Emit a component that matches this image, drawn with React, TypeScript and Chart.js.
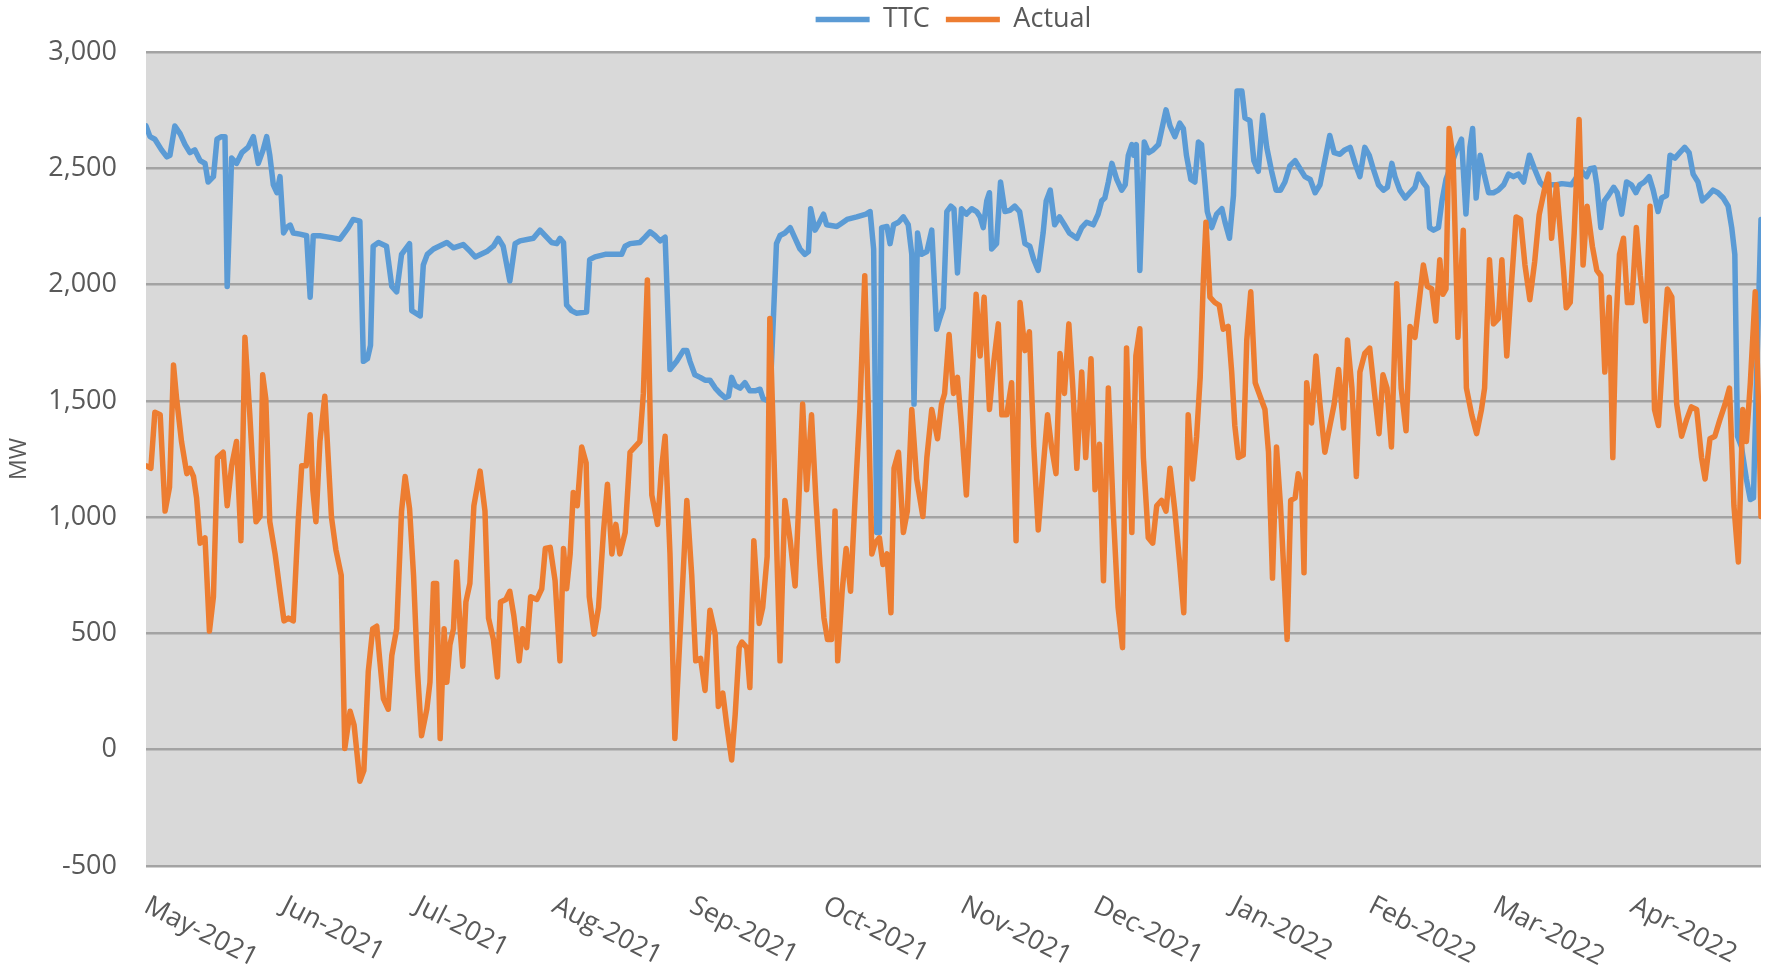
import React, { useEffect, useRef } from 'react';
import { Chart, registerables } from 'chart.js';

Chart.register(...registerables);

// Month tick labels and their day offsets from 1 May 2021
const monthLabels = ['May-2021', 'Jun-2021', 'Jul-2021', 'Aug-2021', 'Sep-2021', 'Oct-2021', 'Nov-2021', 'Dec-2021', 'Jan-2022', 'Feb-2022', 'Mar-2022', 'Apr-2022'];
const monthStartDay = [0, 31, 61, 92, 123, 153, 184, 214, 245, 276, 304, 335];

// TTC series (day offset, MW)
const ttcDay = [0, 0.9, 2, 3.5, 4.7, 5.4, 6.5, 7.7, 8.8, 9.9, 11, 12.2, 13.3, 14, 15.2, 16, 17, 17.8, 18.3, 19.3, 20.4, 21.6, 23, 24.2, 25.3, 26.4, 27.2, 27.9, 28.7, 29.5, 30.2, 31, 31.7, 32.5, 33.2, 34.7, 36.2, 37, 37.7, 39.2, 41.5, 43.7, 45.6, 46.7, 48.2, 49, 49.9, 50.6, 51.2, 52.4, 54.2, 55.4, 56.5, 57.6, 59.4, 59.9, 61.8, 62.5, 63.4, 64.8, 67.8, 69.3, 71.5, 73.1, 74.2, 76.8, 78.3, 79.4, 80.5, 82, 83.2, 84.3, 87.3, 88.8, 91.4, 92.6, 93.3, 94.1, 94.8, 95.9, 97, 99.3, 100, 101.2, 103.5, 107.2, 108, 109.1, 111.3, 112.5, 113.6, 114.7, 115.9, 117, 118.1, 119.6, 121.1, 121.9, 122.6, 123.7, 124.9, 126, 127.1, 128.3, 129.4, 130.5, 131.3, 132, 132.8, 133.9, 135, 136.1, 137.3, 138.4, 139.1, 140.6, 141.4, 142.1, 142.9, 144, 145.2, 146.3, 147.4, 148.5, 149.3, 149.8, 150.8, 151.5, 152.7, 153.4, 155.7, 156.8, 158, 160.2, 162.3, 163.2, 164, 164.7, 165.3, 165.8, 167, 167.7, 168.5, 169.6, 170.7, 171.8, 172.6, 173.1, 173.9, 174.8, 176, 177.1, 178.2, 178.9, 179.7, 180.5, 181.4, 182.1, 182.9, 183.8, 184.9, 186.1, 187.2, 188, 188.7, 189.5, 190.1, 190.6, 191.7, 192.6, 193.6, 194.7, 195.8, 196.9, 198.1, 199.2, 200.1, 201.1, 202.2, 202.9, 203.8, 204.8, 205.9, 207, 208.1, 209.8, 210.9, 212, 213.5, 214.6, 215.4, 216.1, 216.9, 217.7, 218.8, 219.9, 220.7, 221.4, 222.2, 222.6, 223.2, 224, 225, 226, 227, 228.2, 229.9, 230.8, 231.9, 233, 233.8, 234.5, 235.5, 236.4, 237.2, 237.9, 238.7, 239.2, 240.2, 241.3, 242.5, 243.2, 244.2, 245.1, 245.9, 247, 247.7, 248.8, 249.7, 250.7, 251.7, 252.6, 253.7, 254.7, 255.7, 256.7, 257.8, 259, 260.1, 261.2, 262.4, 263.5, 264.6, 265.8, 266.8, 267.8, 269.1, 270.2, 271.4, 272.5, 273.6, 274.7, 275.7, 276.6, 277.8, 278.9, 279.8, 280.8, 281.5, 282.6, 283.8, 284.9, 286, 286.8, 287.8, 288.7, 289.3, 290.2, 291.3, 292.1, 293, 294.3, 295.4, 296.5, 297.5, 298.4, 299, 299.8, 300.7, 301.6, 302.6, 303.7, 304.8, 306, 307.1, 308.2, 309.3, 310.5, 311.8, 312.9, 314.2, 315.3, 316.5, 318, 319.1, 321.3, 322.5, 323.6, 324.7, 325.5, 326.4, 327, 327.9, 328.7, 329.6, 330.8, 331.6, 332.6, 333.7, 334.8, 335.8, 336.7, 337.7, 338.8, 339.7, 340.8, 341.6, 342.7, 343.5, 344.6, 345.7, 346.8, 347.8, 348.7, 349.8, 350.8, 352.1, 353.2, 354.3, 355.5, 356.6, 357.4, 358.1, 358.7, 359.6, 360.7, 361.6, 362.3, 363.1, 364];
const ttcMW = [2682, 2636, 2625, 2579, 2549, 2556, 2682, 2648, 2602, 2567, 2579, 2533, 2521, 2441, 2464, 2625, 2636, 2636, 1992, 2544, 2521, 2567, 2590, 2636, 2521, 2579, 2636, 2556, 2429, 2395, 2464, 2222, 2245, 2256, 2222, 2217, 2210, 1946, 2210, 2210, 2203, 2195, 2245, 2280, 2273, 1670, 1681, 1739, 2165, 2181, 2165, 1992, 1969, 2130, 2176, 1888, 1865, 2084, 2130, 2153, 2181, 2158, 2172, 2142, 2119, 2142, 2165, 2199, 2165, 2015, 2176, 2188, 2199, 2234, 2181, 2176, 2199, 2181, 1912, 1888, 1877, 1882, 2107, 2119, 2130, 2130, 2165, 2176, 2181, 2204, 2227, 2211, 2188, 2204, 1635, 1670, 1716, 1716, 1670, 1612, 1601, 1589, 1589, 1555, 1532, 1514, 1520, 1601, 1566, 1555, 1578, 1543, 1543, 1550, 1509, 1497, 1854, 2176, 2211, 2222, 2245, 2199, 2153, 2130, 2142, 2326, 2234, 2257, 2303, 2257, 2250, 2264, 2280, 2291, 2303, 2314, 2153, 934, 934, 2245, 2250, 2176, 2257, 2268, 2291, 2257, 2130, 1486, 2222, 2130, 2142, 2234, 1808, 1854, 1900, 2314, 2337, 2326, 2050, 2326, 2303, 2326, 2314, 2291, 2245, 2360, 2395, 2153, 2176, 2441, 2314, 2319, 2337, 2314, 2176, 2165, 2107, 2061, 2222, 2360, 2406, 2257, 2291, 2257, 2222, 2199, 2245, 2268, 2257, 2303, 2360, 2372, 2441, 2521, 2452, 2406, 2429, 2556, 2602, 2556, 2602, 2061, 2613, 2567, 2579, 2602, 2751, 2682, 2636, 2694, 2671, 2556, 2452, 2441, 2613, 2602, 2429, 2314, 2245, 2303, 2326, 2268, 2199, 2383, 2832, 2832, 2717, 2705, 2533, 2487, 2728, 2590, 2487, 2406, 2406, 2441, 2510, 2533, 2498, 2464, 2452, 2395, 2429, 2544, 2641, 2567, 2560, 2579, 2590, 2521, 2464, 2590, 2556, 2498, 2429, 2406, 2418, 2521, 2464, 2406, 2372, 2395, 2418, 2475, 2441, 2418, 2245, 2234, 2245, 2360, 2452, 2521, 2579, 2625, 2303, 2590, 2671, 2372, 2556, 2475, 2395, 2395, 2406, 2429, 2475, 2464, 2475, 2441, 2556, 2500, 2440, 2418, 2429, 2429, 2434, 2429, 2464, 2487, 2464, 2498, 2502, 2429, 2245, 2360, 2383, 2418, 2395, 2303, 2441, 2429, 2395, 2429, 2441, 2464, 2406, 2314, 2372, 2383, 2556, 2544, 2567, 2590, 2567, 2475, 2441, 2360, 2383, 2406, 2395, 2372, 2337, 2245, 2130, 1348, 1302, 1164, 1076, 1083, 1670, 2280];

// Actual series (day offset, MW)
const actualDay = [0, 1.1, 2, 3.2, 4.3, 5.3, 6.2, 6.9, 8, 9.2, 9.9, 10.7, 11.4, 12.2, 13.3, 14.3, 15.2, 16.1, 17.4, 18.3, 19.3, 20.4, 21.4, 22.3, 23.4, 24.2, 24.8, 25.7, 26.3, 27, 27.9, 29.1, 30.2, 31.1, 32.1, 33.2, 34.3, 35.1, 36.1, 37, 37.6, 38.3, 39.2, 40.3, 41.8, 42.8, 44, 44.8, 46, 46.9, 48.2, 49.1, 50.1, 51.1, 52, 52.7, 53.5, 54.6, 55.4, 56.5, 57.6, 58.4, 59.4, 60.3, 61.2, 62.1, 63.3, 64, 64.8, 65.5, 66.3, 67.2, 67.8, 68.5, 69.3, 70, 70.8, 71.4, 72.1, 73, 73.9, 75.3, 76.4, 77.2, 78.3, 79.2, 79.9, 81.1, 82, 82.9, 84.1, 84.9, 85.8, 86.7, 88.1, 89.2, 90, 91.1, 92.2, 93.3, 94.1, 94.8, 95.6, 96.3, 97.2, 98.2, 99.2, 99.9, 101, 102, 103.1, 104, 105, 105.9, 106.8, 108, 109.1, 110.2, 111.3, 112.1, 113, 114, 115.3, 116.2, 117, 118.1, 119.2, 120.4, 121.9, 123, 123.9, 125, 126, 127.1, 128.3, 129, 130, 130.9, 132, 132.8, 133.7, 134.3, 135.4, 136.1, 137, 138.2, 139, 140, 140.6, 141.8, 142.9, 144, 145.2, 146.3, 147, 148, 148.9, 150, 151, 151.9, 152.8, 153.6, 154.5, 155.3, 155.9, 156.9, 157.8, 158.8, 159.8, 160.9, 162, 163, 163.6, 164.3, 165.3, 166.1, 167, 167.9, 168.6, 169.6, 170.7, 171.6, 172.6, 173.7, 175.1, 176, 177.1, 178.4, 179.3, 180, 181, 182, 182.9, 183.8, 184.9, 186.1, 187.1, 188, 188.9, 190.1, 191.1, 192.1, 192.9, 194, 195.1, 196.1, 197, 198.1, 199.1, 200.1, 201.1, 202.1, 203.2, 204.1, 205.1, 206, 207, 208, 208.9, 209.8, 210.9, 211.8, 213, 213.9, 214.9, 215.8, 216.9, 218, 219.1, 220.1, 221, 222.2, 223.1, 224, 224.8, 225.9, 226.9, 227.8, 228.9, 229.9, 230.8, 231.9, 233, 233.9, 234.9, 235.9, 236.8, 237.6, 238.3, 238.9, 239.8, 240.9, 241.9, 242.8, 243.9, 244.7, 245.4, 246.2, 247.3, 248.1, 249, 250, 251.1, 252.2, 253, 253.9, 254.8, 255.7, 256.5, 257.2, 258, 259, 259.7, 260.5, 261, 261.6, 262.7, 263.7, 264.6, 265.7, 266.7, 267.8, 268.8, 269.9, 270.8, 271.8, 272.8, 273.6, 274.7, 275.8, 276.9, 277.9, 278.8, 279.7, 280.7, 281.9, 282.9, 284, 284.9, 286, 287, 287.9, 288.8, 289.8, 290.7, 291.6, 292.3, 293, 293.7, 294.6, 295.7, 296.9, 297.6, 298.8, 299.9, 301, 301.7, 302.8, 303.7, 304.8, 305.6, 306.7, 307.8, 308.8, 309.8, 310.8, 311.9, 313, 314, 315.3, 316.1, 316.8, 317.9, 318.8, 319.5, 320.1, 321, 321.9, 323, 323.9, 324.8, 326, 327, 327.9, 328.8, 329.8, 330.6, 331.3, 332.1, 333, 333.9, 334.9, 335.9, 336.8, 338, 339, 340, 340.9, 342, 342.9, 343.9, 345, 346.1, 347.2, 348.3, 349.5, 350.6, 351.4, 352.5, 353.6, 354.7, 355.9, 356.9, 357.9, 358.9, 359.9, 360.7, 361.6, 362.7, 363.5, 364];
const actualMW = [1221, 1210, 1451, 1440, 1026, 1129, 1654, 1509, 1325, 1187, 1210, 1175, 1083, 888, 911, 510, 658, 1256, 1279, 1049, 1221, 1325, 899, 1773, 1440, 1164, 980, 1003, 1612, 1509, 980, 842, 681, 554, 566, 554, 980, 1221, 1221, 1440, 1118, 980, 1325, 1520, 1000, 860, 750, 5, 165, 106, -136, -90, 336, 520, 531, 382, 220, 174, 405, 520, 1026, 1175, 1037, 750, 336, 60, 175, 290, 715, 715, 48, 520, 290, 451, 520, 807, 520, 359, 635, 715, 1049, 1198, 1026, 566, 474, 313, 635, 646, 681, 577, 382, 520, 439, 658, 646, 692, 865, 870, 727, 382, 865, 692, 842, 1106, 1049, 1302, 1233, 658, 497, 612, 934, 1141, 842, 969, 842, 934, 1279, 1302, 1325, 1532, 2020, 1095, 969, 1210, 1348, 842, 48, 508, 1072, 750, 382, 393, 255, 600, 497, 186, 243, 106, -44, 152, 440, 463, 439, 267, 899, 543, 612, 831, 1854, 1095, 382, 1072, 899, 704, 1003, 1486, 1118, 1440, 1072, 796, 566, 474, 474, 1026, 382, 681, 865, 681, 1072, 1463, 2038, 1325, 842, 888, 911, 796, 842, 589, 1210, 1279, 934, 1026, 1463, 1164, 1003, 1256, 1463, 1337, 1486, 1532, 1785, 1532, 1601, 1394, 1095, 1555, 1958, 1693, 1946, 1463, 1670, 1831, 1440, 1440, 1578, 899, 1923, 1716, 1797, 1302, 945, 1187, 1440, 1302, 1187, 1704, 1532, 1831, 1555, 1210, 1624, 1256, 1681, 1118, 1313, 727, 1555, 1026, 612, 439, 1727, 934, 1693, 1810, 1256, 911, 888, 1049, 1072, 1026, 1210, 1026, 796, 589, 1440, 1164, 1348, 1601, 2015, 2268, 1946, 1923, 1911, 1808, 1820, 1624, 1394, 1256, 1267, 1762, 1969, 1578, 1520, 1463, 1279, 738, 1302, 1049, 750, 474, 1072, 1083, 1187, 1118, 761, 1578, 1405, 1693, 1486, 1279, 1380, 1486, 1635, 1383, 1762, 1555, 1175, 1624, 1704, 1727, 1532, 1359, 1612, 1555, 1302, 2004, 1555, 1371, 1820, 1773, 1935, 2084, 1992, 1981, 1843, 2107, 1958, 1981, 2671, 2544, 1773, 2234, 1555, 1440, 1359, 1463, 1555, 2107, 1831, 1854, 2107, 1693, 2015, 2291, 2280, 2084, 1935, 2100, 2300, 2418, 2475, 2199, 2429, 2222, 2061, 1900, 1923, 2222, 2710, 2084, 2337, 2164, 2061, 2038, 1624, 1946, 1256, 1831, 2130, 2199, 1923, 1923, 2245, 2038, 1843, 2337, 1463, 1394, 1739, 1981, 1946, 1486, 1348, 1417, 1474, 1463, 1256, 1164, 1337, 1348, 1417, 1486, 1555, 1049, 807, 1463, 1325, 1578, 1969, 1440, 1003];

const FONT = '"Open Sans", "Liberation Sans", sans-serif';
const TEXT_COLOR = '#595959';

const plotBackground = {
  id: 'plotBackground',
  beforeDraw(chart: any) {
    const { ctx, chartArea } = chart;
    ctx.save();
    ctx.fillStyle = '#D9D9D9';
    ctx.fillRect(chartArea.left, chartArea.top, chartArea.right - chartArea.left, chartArea.bottom - chartArea.top);
    ctx.restore();
  },
};

const monthAxisLabels = {
  id: 'monthAxisLabels',
  afterDraw(chart: any) {
    const { ctx, chartArea } = chart;
    const xScale = chart.scales.x;
    ctx.save();
    ctx.font = `27px ${FONT}`;
    ctx.fillStyle = TEXT_COLOR;
    ctx.textAlign = 'left';
    ctx.textBaseline = 'top';
    monthLabels.forEach((label, i) => {
      const px = xScale.getPixelForValue(monthStartDay[i]);
      ctx.save();
      ctx.translate(px + 6, chartArea.bottom + 26);
      ctx.rotate((27 * Math.PI) / 180);
      ctx.fillText(label, 0, 0);
      ctx.restore();
    });
    ctx.restore();
  },
};

const legendGap = {
  id: 'legendGap',
  afterInit(chart: any) {
    const legend = chart.legend;
    if (!legend) return;
    const originalFit = legend.fit.bind(legend);
    legend.fit = function () {
      originalFit();
      this.height += 9;
    };
  },
};

export default function App() {
  const canvasRef = useRef<HTMLCanvasElement | null>(null);

  useEffect(() => {
    if (!canvasRef.current) return;
    const ttcPoints = ttcDay.map((d, i) => ({ x: d, y: ttcMW[i] }));
    const actualPoints = actualDay.map((d, i) => ({ x: d, y: actualMW[i] }));

    const chart = new Chart(canvasRef.current, {
      type: 'line',
      data: {
        datasets: [
          {
            label: 'TTC',
            data: ttcPoints,
            borderColor: '#5B9BD5',
            backgroundColor: '#5B9BD5',
            borderWidth: 5.5,
            pointRadius: 0,
            tension: 0,
            borderJoinStyle: 'round',
            borderCapStyle: 'round',
            order: 1,
          },
          {
            label: 'Actual',
            data: actualPoints,
            borderColor: '#ED7D31',
            backgroundColor: '#ED7D31',
            borderWidth: 5.5,
            pointRadius: 0,
            tension: 0,
            borderJoinStyle: 'round',
            borderCapStyle: 'round',
            order: 0,
          },
        ],
      },
      options: {
        responsive: false,
        animation: false,
        locale: 'en-US',
        layout: { padding: { top: -10, left: 0, right: 7, bottom: 105 } },
        plugins: {
          legend: {
            display: true,
            position: 'top',
            fullSize: false,
            labels: {
              font: { family: FONT, size: 27 },
              color: TEXT_COLOR,
              usePointStyle: true,
              pointStyle: 'line',
              pointStyleWidth: 54,
              padding: 16,
              sort: (a: any, b: any) => a.datasetIndex - b.datasetIndex,
            },
          },
          tooltip: { enabled: false },
        },
        scales: {
          x: {
            type: 'linear',
            min: 0,
            max: 364,
            grid: { display: false, drawTicks: false },
            border: { display: false },
            ticks: { display: false },
            afterFit: (s: any) => {
              s.height = 0;
            },
          },
          y: {
            type: 'linear',
            min: -500,
            max: 3000,
            grid: { color: '#A3A3A3', lineWidth: 2.5, drawTicks: false },
            border: { display: false },
            ticks: {
              stepSize: 500,
              padding: 29,
              color: TEXT_COLOR,
              font: { family: FONT, size: 27 },
              callback: (v: any) => Number(v).toLocaleString('en-US'),
            },
            title: {
              display: true,
              text: 'MW',
              color: TEXT_COLOR,
              font: { family: FONT, size: 23 },
              padding: { top: 6, bottom: 0 },
            },
            afterFit: (s: any) => {
              s.width = 146;
            },
          },
        },
      },
      plugins: [plotBackground, monthAxisLabels, legendGap],
    });

    return () => {
      chart.destroy();
    };
  }, []);

  return (
    <div style={{ position: 'absolute', left: 0, top: 0, width: 1768, height: 971, background: '#FFFFFF' }}>
      <canvas ref={canvasRef} width={1768} height={971} style={{ width: 1768, height: 971, display: 'block' }} />
    </div>
  );
}
